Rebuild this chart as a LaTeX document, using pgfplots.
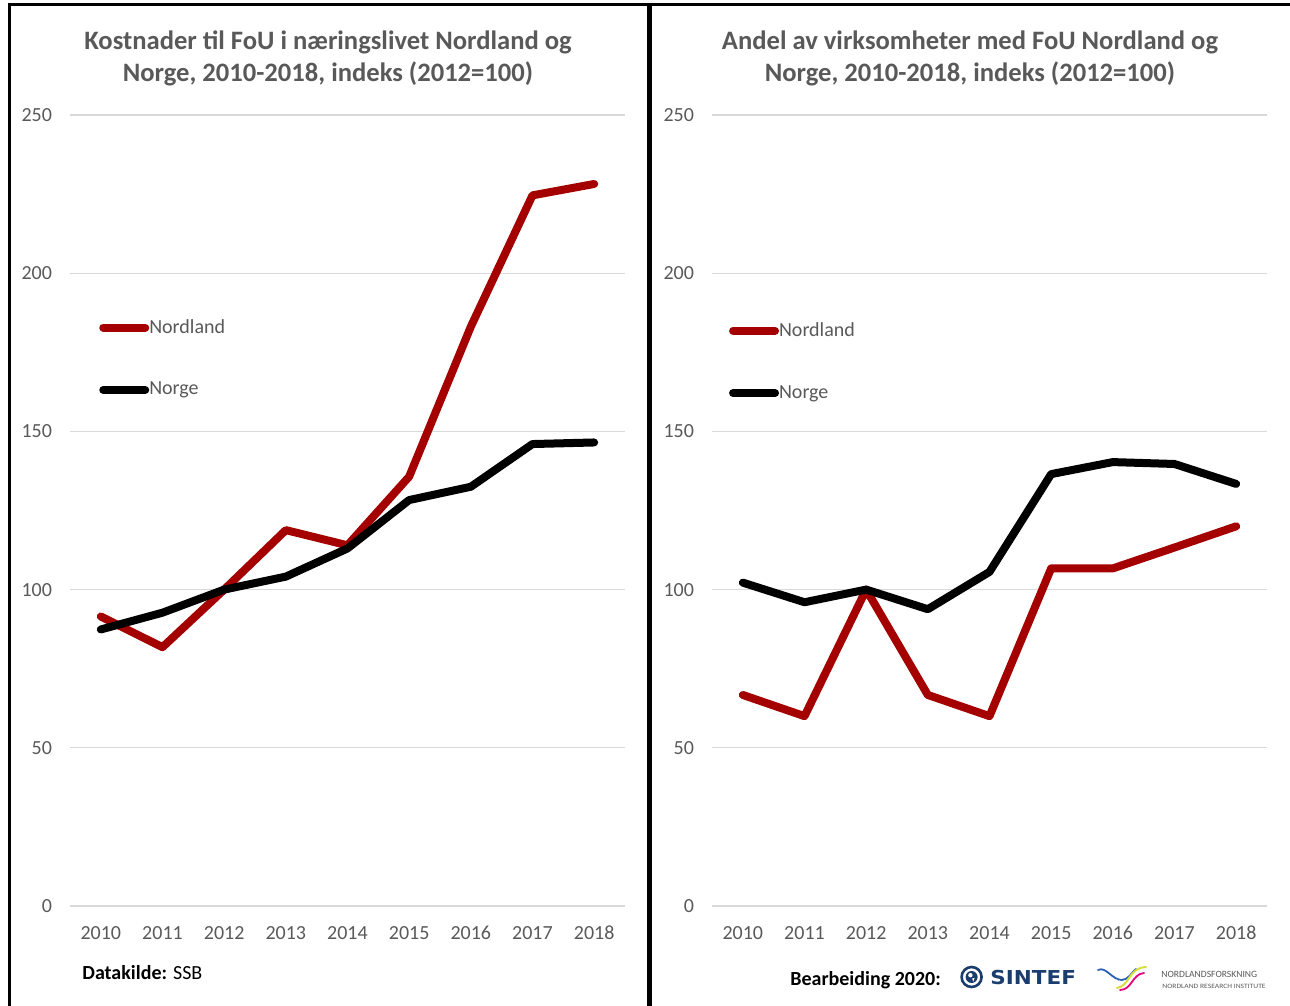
\documentclass[border=0pt]{standalone}
\usepackage{pgfplots}
\pgfplotsset{compat=1.18}
\usepackage{fontspec}
\setmainfont{Carlito}
\newfontfamily\djv{DejaVu Sans}
\definecolor{nred}{HTML}{A50000}
\definecolor{tgray}{HTML}{595959}
\definecolor{ggray}{HTML}{D9D9D9}
\definecolor{sblue}{HTML}{1B3D6D}
\definecolor{wblue}{HTML}{2B5FB4}
\definecolor{wyel}{HTML}{D6DE3A}
\definecolor{wpink}{HTML}{E5007D}

\pgfplotsset{
  panel/.style={
    at={(#1,50pt)}, anchor=south west,
    scale only axis, width=277.5pt, height=395.5pt,
    xmin=-0.5, xmax=8.5, ymin=0, ymax=250,
    xtick={0,1,2,3,4,5,6,7,8},
    xticklabels={2010,2011,2012,2013,2014,2015,2016,2017,2018},
    ytick={0,50,100,150,200,250},
    ymajorgrids, grid style={ggray, line width=0.6pt},
    axis line style={draw=none}, major tick length=0pt,
    tick label style={font=\fontsize{10}{12}\selectfont, text=tgray},
    /pgf/number format/assume math mode=true,
    yticklabel style={xshift=-5.5pt},
    xticklabel style={yshift=-6.5pt},
    clip=false,
    legend cell align=left,
    legend style={draw=none, fill=none, anchor=north west,
      font=\fontsize{10}{12}\selectfont, text=tgray, row sep=19pt,
      inner sep=0pt, nodes={inner xsep=0pt},
      /tikz/every even column/.append style={column sep=4pt}},
    legend image code/.code={\draw[##1] (0pt,0pt) -- (21pt,0pt);},
  },
  nord/.style={nred, line width=4pt, line cap=round, line join=round},
  norg/.style={black, line width=4pt, line cap=round, line join=round},
}

\begin{document}
\begin{tikzpicture}
\useasboundingbox (0,0) rectangle (645pt,503pt);

% panel borders
\draw[black, line width=1.5pt] (4.5pt,0pt) -- (4.5pt,500.5pt) -- (645pt,500.5pt);
\draw[black, line width=2.5pt] (324.5pt,0pt) -- (324.5pt,500.5pt);

% left panel
\begin{axis}[panel=35pt, legend style={at={(0.052,0.7475)}}]
\addplot[nord] coordinates {(0,91.5) (1,81.8) (2,100) (3,118.8) (4,114) (5,135.7) (6,183.1) (7,224.6) (8,228.2)};
\addlegendentry{Nordland}
\addplot[norg] coordinates {(0,87.4) (1,92.7) (2,100) (3,104.1) (4,113) (5,128.3) (6,132.5) (7,146) (8,146.5)};
\addlegendentry{Norge}
\end{axis}

% right panel
\begin{axis}[panel=356pt, legend style={at={(0.030,0.7435)}}]
\addplot[nord] coordinates {(0,66.7) (1,60) (2,100) (3,66.7) (4,60) (5,106.7) (6,106.7) (7,113.3) (8,120)};
\addlegendentry{Nordland}
\addplot[norg] coordinates {(0,102.2) (1,96) (2,100) (3,93.8) (4,105.6) (5,136.5) (6,140.3) (7,139.7) (8,133.4)};
\addlegendentry{Norge}
\end{axis}

% titles
\node[align=center, text=tgray, font=\fontsize{13.3}{16}\selectfont\bfseries] at (164pt,474pt)
  {Kostnader til FoU i næringslivet Nordland og\\Norge, 2010-2018, indeks (2012=100)};
\node[align=center, text=tgray, font=\fontsize{13.3}{16}\selectfont\bfseries] at (485pt,474pt)
  {Andel av virksomheter med FoU Nordland og\\Norge, 2010-2018, indeks (2012=100)};

% footers
\node[anchor=west, inner sep=0pt, font=\fontsize{10}{12}\selectfont] at (41pt,16.5pt) {\textbf{Datakilde:} SSB};
\node[anchor=west, inner sep=0pt, font=\fontsize{10}{12}\selectfont\bfseries] at (395pt,13pt) {Bearbeiding 2020:};

% SINTEF logo
\draw[sblue, line width=1.3pt] (485.8pt,14.5pt) circle (5pt);
\fill[sblue] (485.8pt,14.5pt) circle (3pt);
\fill[white] (485.2pt,15.4pt) circle (1.1pt);
\fill[white] (486.6pt,12.2pt) -- (487.3pt,14pt) -- (486.1pt,13.8pt) -- cycle;
\node[anchor=west, inner sep=0pt, text=sblue, font=\djv\fontsize{9.6}{10}\selectfont\bfseries, xscale=1.12] at (495pt,14.2pt) {SINTEF};

% Nordlandsforskning logo
\draw[wblue, line width=0.9pt, line cap=round] (549pt,18pt) .. controls (553pt,20pt) and (556pt,13pt) .. (561pt,13pt) .. controls (564pt,13pt) and (566pt,17pt) .. (568pt,18.5pt);
\draw[wyel, line width=1pt, line cap=round] (558.5pt,9pt) .. controls (565pt,10pt) and (564pt,19pt) .. (573pt,19.5pt);
\draw[wpink, line width=0.9pt, line cap=round] (560pt,8pt) .. controls (566pt,8pt) and (566pt,16pt) .. (572pt,16.5pt);
\node[anchor=west, inner sep=0pt, text=tgray, font=\fontsize{4.8}{5}\selectfont] at (580.5pt,15.8pt) {NORDLANDSFORSKNING};
\node[anchor=west, inner sep=0pt, text=tgray, font=\fontsize{3.3}{4}\selectfont, xscale=1.15] at (581pt,10pt) {NORDLAND RESEARCH INSTITUTE};
\end{tikzpicture}
\end{document}
